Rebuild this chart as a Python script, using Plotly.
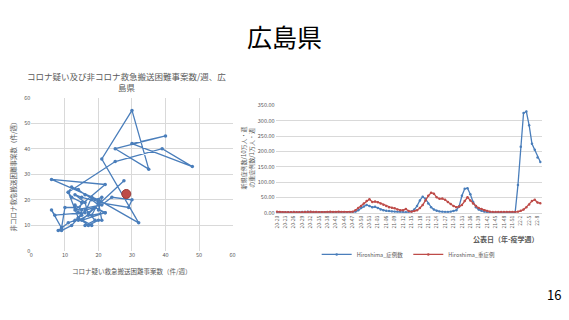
import plotly.graph_objects as go

# ---------------- Left chart data (scatter path, weekly) ----------------
scatter_x = [13, 15, 14, 17, 16, 13, 15, 18, 20, 17, 19, 16, 18, 14, 12, 9, 8, 9, 10, 13,
             14, 15, 12, 11, 12, 14, 16, 19, 21, 20, 22, 19, 16, 15, 13, 11, 9, 6, 7, 16,
             18, 20, 21, 20, 17, 14, 11, 25, 39, 48, 30, 40, 25, 35, 30, 21, 32, 20, 6, 22,
             13, 21, 24, 30, 29, 20, 18, 22, 15, 27.6]
scatter_y = [18, 16, 12, 14, 19, 22, 21, 20, 18, 15, 12, 10, 10, 13, 10, 8, 8, 9, 17, 17,
             15, 19, 21, 23, 25, 24, 22, 20, 21, 16, 15, 17, 16, 14, 12, 11, 9, 16, 14, 15,
             21, 19, 12, 12, 10, 13, 23, 35, 40, 33, 42, 45, 40, 32, 55, 36, 11, 20, 28, 26,
             16, 18, 21, 20, 17, 19, 14, 15, 12, 27.5]
latest_x = [28.3]
latest_y = [22.3]

# ---------------- Right chart data ----------------
weeks = ([f"20-{w:02d}" for w in range(20, 54)] +
         [f"21-{w:02d}" for w in range(1, 53)] +
         [f"22-{w}" for w in range(1, 10)])

cases = [1, 1, 1, 1, 1, 1, 1, 1, 1, 2, 2, 3, 2, 1, 1, 1, 1, 1, 1, 1,
         1, 1, 1, 1, 1, 1, 1, 1, 3, 8, 15, 20, 25, 22, 18, 19, 15, 10, 8, 6,
         5, 4, 3, 2, 2, 1, 1, 2, 4, 10, 22, 40, 52, 45, 30, 18, 10, 6, 4, 3,
         2, 2, 3, 5, 8, 20, 55, 78, 80, 60, 35, 18, 10, 6, 3, 1, 0.5, 0.3, 0.3, 0.3,
         0.3, 0.3, 0.3, 0.3, 0.3, 0.3, 90, 215, 325, 330, 285, 225, 205, 180, 165]
severe = [3, 2, 1, 1, 1, 1, 2, 1, 1, 1, 2, 2, 3, 2, 2, 1, 1, 1, 2, 3,
          2, 2, 3, 2, 2, 1, 2, 3, 8, 15, 22, 30, 38, 44, 35, 36, 34, 30, 26, 22,
          18, 16, 14, 10, 8, 8, 12, 5, 3, 5, 8, 15, 25, 40, 55, 65, 62, 50, 45, 46,
          42, 35, 28, 22, 18, 20, 25, 38, 50, 40, 30, 22, 15, 12, 8, 5, 3, 2, 2, 2,
          2, 2, 2, 2, 2, 2, 3, 6, 10, 18, 27, 38, 42, 33, 31]

tick_idx = list(range(0, len(weeks), 3))
tick_text = [weeks[i] for i in tick_idx]
y_ticks = [0, 50, 100, 150, 200, 250, 300, 350]

BLUE = "#4a7ebb"
RED = "#be4b48"
GRID = "#d9d9d9"
TXT = "#595959"
FONT = "Noto Sans CJK JP"

fig = go.Figure()

fig.add_trace(go.Scatter(x=scatter_x, y=scatter_y, mode="lines+markers",
                         line=dict(color=BLUE, width=1.3),
                         marker=dict(color=BLUE, size=3.5),
                         xaxis="x", yaxis="y", showlegend=False))
fig.add_trace(go.Scatter(x=latest_x, y=latest_y, mode="markers",
                         marker=dict(color=RED, size=9, line=dict(color="#9c3a37", width=1)),
                         xaxis="x", yaxis="y", showlegend=False))

xi = list(range(len(weeks)))
fig.add_trace(go.Scatter(x=xi, y=cases, mode="lines+markers", name="Hiroshima_症例数",
                         line=dict(color=BLUE, width=1.3), marker=dict(color=BLUE, size=2.5),
                         xaxis="x2", yaxis="y2"))
fig.add_trace(go.Scatter(x=xi, y=severe, mode="lines+markers", name="Hiroshima_重症例",
                         line=dict(color=RED, width=1.3), marker=dict(color=RED, size=2.5),
                         xaxis="x2", yaxis="y2"))

W, H = 569, 320
def px(x):
    return x / W
def py(y):
    return 1 - y / H

fig.update_layout(
    width=W, height=H, margin=dict(l=0, r=0, t=0, b=0),
    paper_bgcolor="white", plot_bgcolor="white",
    font=dict(family=FONT, color=TXT, size=6),
    xaxis=dict(domain=[px(28.7), px(232)], range=[0, 60], dtick=10,
               showgrid=True, gridcolor=GRID, zeroline=False, showline=False,
               tickfont=dict(size=5.5, color=TXT), ticks="", anchor="y"),
    yaxis=dict(domain=[py(253.3), py(96)], range=[0, 60], dtick=10,
               showgrid=True, gridcolor=GRID, zeroline=False, showline=False,
               tickfont=dict(size=5.5, color=TXT), ticks="", anchor="x"),
    xaxis2=dict(domain=[px(275.5), px(544.5)], range=[-0.5, len(weeks) - 0.5],
                tickmode="array", tickvals=tick_idx, ticktext=tick_text, tickangle=-90,
                showgrid=False, zeroline=False, showline=True, linecolor=GRID,
                tickfont=dict(size=5, color=TXT), ticks="", anchor="y2"),
    yaxis2=dict(domain=[py(214), py(104)], range=[0, 350],
                tickmode="array", tickvals=y_ticks, ticktext=[f"{v:.2f}" for v in y_ticks],
                showgrid=True, gridcolor=GRID, zeroline=False, showline=False,
                tickfont=dict(size=5.5, color=TXT), ticks="", anchor="x2"),
    showlegend=True,
    legend=dict(orientation="h", x=px(410), y=py(242), xanchor="center", yanchor="top",
                font=dict(size=5.5, color=TXT), bgcolor="rgba(0,0,0,0)"),
)

anns = [
    dict(text="広島県", x=px(285), y=py(33), font=dict(size=25, color="black")),
    dict(text="16", x=px(557), y=py(298), font=dict(size=13, color="black")),
    dict(text="コロナ疑い及び非コロナ救急搬送困難事案数/週、広<br>島県", x=px(125), y=py(79),
         font=dict(size=8.5, color=TXT)),
    dict(text="非コロナ救急搬送困難事案数（件/週）", x=px(10), y=py(175), textangle=-90,
         font=dict(size=6.5, color=TXT)),
    dict(text="コロナ疑い救急搬送困難事案数（件/週）", x=px(130), y=py(274),
         font=dict(size=6.5, color=TXT)),
    dict(text="新規症例数/10万人・週<br>の重症例数/1万人・週", x=px(247), y=py(158), textangle=-90,
         font=dict(size=6, color=TXT)),
    dict(text="<b>公表日（年-疫学週）</b>", x=px(508), y=py(241),
         font=dict(size=7, color=TXT)),
]
for a in anns:
    a.update(xref="paper", yref="paper", showarrow=False, xanchor="center", yanchor="middle")
fig.update_layout(annotations=anns)

fig.write_html("out.html")
